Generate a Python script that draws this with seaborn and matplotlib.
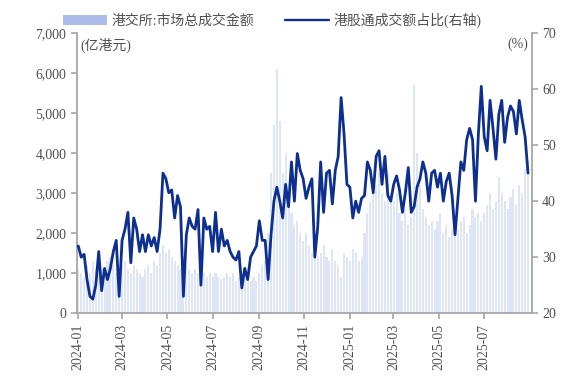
import numpy as np
import pandas as pd
import seaborn as sns
import matplotlib.pyplot as plt
import matplotlib.dates as mdates
from matplotlib.ticker import FuncFormatter
from matplotlib.lines import Line2D
from matplotlib.patches import Patch

# 港股通成交额占比 (%), roughly every 3 trading days
share = [
    32, 30, 30.5, 26, 23, 22.5, 25,                 # 2024-01
    31, 24, 28, 26, 28, 31, 33,                     # 2024-02
    23, 33, 35, 38, 29, 37, 35, 31,                 # 2024-03
    34, 31, 34, 32, 33.5, 31, 35,                   # 2024-04
    45, 44, 41.5, 42, 37, 41, 39, 23,               # 2024-05
    34, 37, 35.5, 35, 38.5, 25, 37, 35,             # 2024-06
    35.5, 31, 38, 31, 35, 32, 33,                   # 2024-07
    31, 30, 29.5, 31, 24.5, 28, 26, 30,             # 2024-08
    31, 32, 36.5, 33, 33, 26, 34, 40,               # 2024-09
    42.5, 40, 37, 43, 39, 47, 40,                   # 2024-10
    48.5, 45.5, 44, 40.5, 42.5, 44, 30, 35.5,       # 2024-11
    47, 38, 45, 45.5, 39.5, 45.5, 48, 58.5,         # 2024-12
    52, 43, 42.5, 37, 40, 38, 40.5,                 # 2025-01
    41, 47, 45.5, 41.5, 48, 49, 43, 48,             # 2025-02
    41, 40, 43, 44.5, 42, 38, 41.5, 46,             # 2025-03
    38, 39, 42.5, 44, 47, 45, 40, 45,               # 2025-04
    45.5, 42.5, 45, 40, 43.5, 45, 41, 34,           # 2025-05
    40.5, 47, 45.5, 51, 53, 51, 40, 52, 60.5,       # 2025-06
    51.5, 49, 58, 53, 47.5, 55.5, 58, 50.5,         # 2025-07
    55, 57, 56, 52, 58, 54.5, 51.5, 45,             # 2025-08
]

# 港交所市场总成交金额 (亿港元), same dates
turnover = [
    1100, 1000, 900, 1200, 1000, 1300, 1100,
    1000, 1100, 900, 1300, 1400, 1200, 1000,
    1100, 1200, 1300, 1100, 1000, 1200, 1100, 1000,
    900, 1100, 1200, 1000, 1300, 1200, 1500,
    1700, 1500, 1600, 1400, 1300, 1200, 1100, 1000,
    1200, 1100, 1000, 1100, 1000, 900, 1000, 900,
    1000, 900, 1000, 900, 850, 900, 1000,
    900, 1000, 800, 900, 1000, 850, 900, 800,
    900, 800, 1000, 1200, 1300, 2000, 3500, 4700,
    6100, 4800, 3500, 4000, 3000, 2500, 2200,
    2300, 2000, 1800, 2000, 1700, 1500, 1600, 1400,
    1500, 1700, 1400, 1300, 1600, 1300, 1200, 900,
    1500, 1400, 1300, 1600, 1500, 1300, 1400,
    2000, 2500, 2800, 3000, 3200, 3500, 3000, 2800,
    3500, 3000, 2800, 3000, 2500, 2300, 2600, 2200,
    2400, 5700, 4000, 3200, 2600, 2400, 2200, 2300,
    2100, 2300, 2500, 2000, 2200, 1900, 2100, 2000,
    2100, 2300, 2400, 2000, 2200, 2600, 2400, 2500, 2300,
    2500, 2700, 3000, 2600, 2800, 3400, 3000, 2800,
    2600, 2900, 3100, 2700, 3200, 3000, 3600, 3800,
]

dates = pd.date_range("2024-01-02", "2025-08-29", periods=len(share))
df = pd.DataFrame({"date": dates, "share": share, "turnover": turnover})

sns.set_style("ticks")
plt.rcParams['font.family'] = ['Liberation Serif', 'Noto Sans CJK SC', 'DejaVu Sans']
plt.rcParams['axes.unicode_minus'] = False

bar_color = "#b7c8ec"
line_color = "#0d2f8f"
grey = "#a6a6a6"
txt = "#505050"

fig = plt.figure(figsize=(5.73, 3.9), dpi=100)
ax = fig.add_axes([0.134, 0.197, 0.794, 0.718])

ax.bar(df["date"], df["turnover"], width=2.8, color=bar_color, alpha=0.45, linewidth=0)
ax.set_ylim(0, 7000)
ax.set_yticks(np.arange(0, 7001, 1000))
ax.yaxis.set_major_formatter(FuncFormatter(lambda v, p: f"{int(v):,}"))

ax2 = ax.twinx()
sns.lineplot(data=df, x="date", y="share", ax=ax2, color=line_color, linewidth=2.0)
ax2.set_ylim(20, 70)
ax2.set_yticks(np.arange(20, 71, 10))
ax2.set_xlabel("")
ax2.set_ylabel("")
ax.set_xlabel("")
ax.set_ylabel("")

ax.set_xlim(pd.Timestamp("2023-12-31"), pd.Timestamp("2025-09-03"))
ax.xaxis.set_major_locator(mdates.MonthLocator(bymonth=[1, 3, 5, 7, 9, 11]))
ax.xaxis.set_major_formatter(mdates.DateFormatter("%Y-%m"))
ticks = [t for t in ax.get_xticks() if t < mdates.date2num(pd.Timestamp("2025-08-01"))]
ax.set_xticks(ticks)
ax.tick_params(axis="x", rotation=90)

for a in (ax, ax2):
    a.spines["top"].set_visible(False)
    for s in ("left", "right", "bottom"):
        a.spines[s].set_color(grey)
        a.spines[s].set_linewidth(1.3)
    a.tick_params(colors=grey, labelcolor=txt, labelsize=10, width=1.2, length=4)
ax.spines["right"].set_visible(False)
ax2.spines["left"].set_visible(False)
ax2.spines["bottom"].set_visible(False)

ax.text(0.008, 0.985, "(亿港元)", transform=ax.transAxes, ha="left", va="top",
        fontsize=10, color=txt)
ax2.text(0.992, 0.985, "(%)", transform=ax2.transAxes, ha="right", va="top",
         fontsize=10, color=txt)

handles = [Patch(facecolor="#a9bde8", edgecolor="none"),
           Line2D([0], [0], color=line_color, linewidth=1.7)]
labels = ["港交所:市场总成交金额", "港股通成交额占比(右轴)"]
fig.legend(handles, labels, loc="upper center", bbox_to_anchor=(0.475, 1.0), ncol=2,
           frameon=False, fontsize=10, handlelength=3.2, columnspacing=2.2,
           handletextpad=0.3, labelcolor=txt)

fig.savefig("out.png", dpi=100)
